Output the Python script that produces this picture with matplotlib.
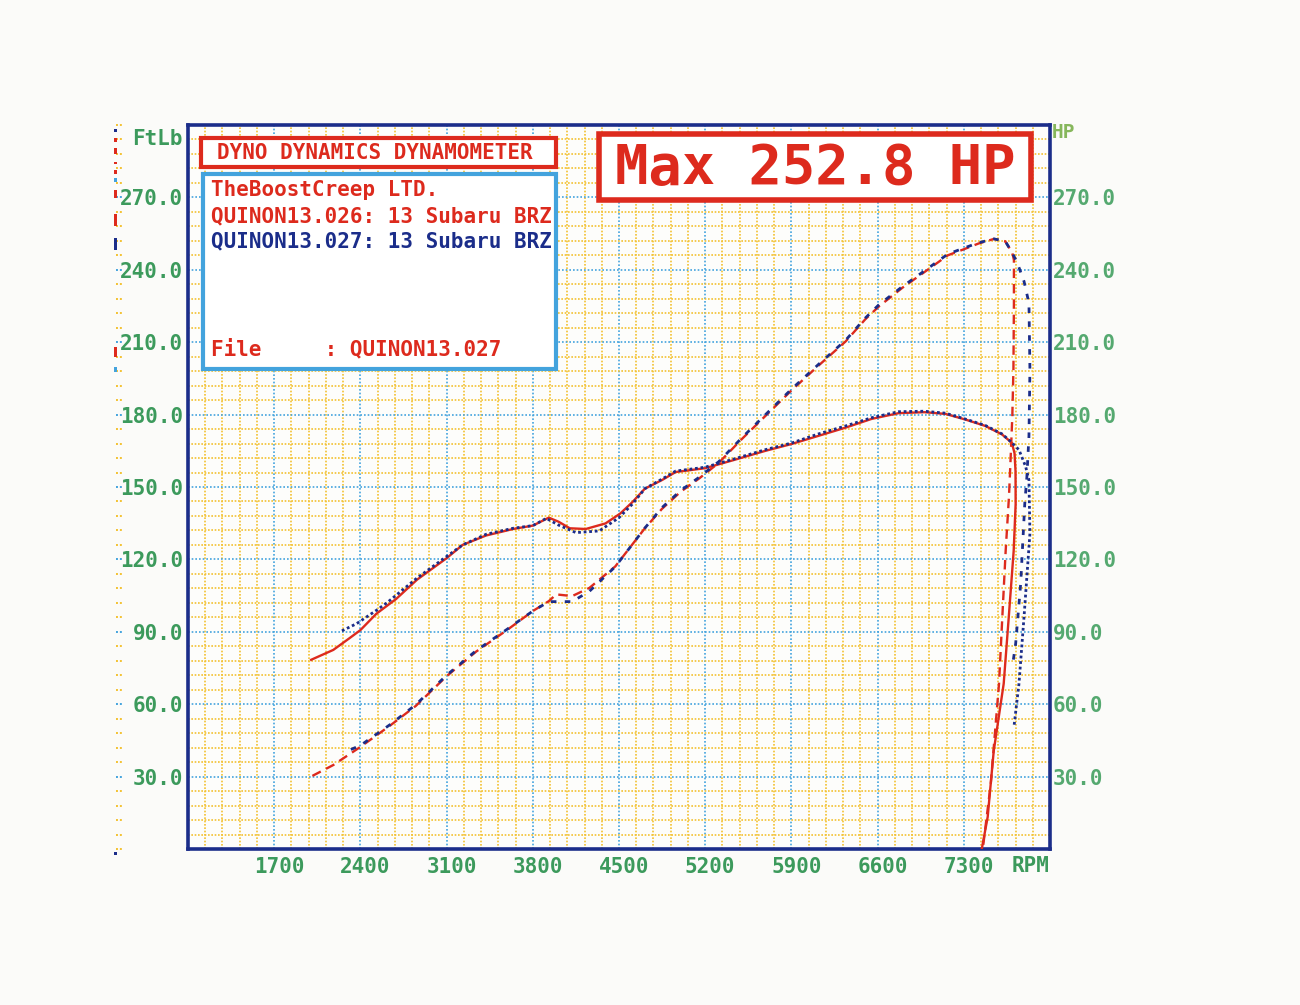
import numpy as np
import matplotlib.pyplot as plt
from matplotlib.patches import Rectangle
from matplotlib.transforms import ScaledTranslation

# run QUINON13.026 (red)
rpm_tq_026 = [2000, 2180, 2310, 2400, 2530, 2690, 2860, 3100, 3230, 3420,
              3640, 3800, 3930, 4010, 4100, 4230, 4390, 4510, 4610, 4710,
              4850, 4960, 5200, 5420, 5690, 5900, 6120, 6340, 6550, 6770,
              6980, 7150, 7310, 7475, 7610, 7690, 7712, 7720, 7721, 7705,
              7665, 7624, 7543, 7494, 7446]
tq_026 = [78.4, 82.5, 87.3, 90.7, 97.5, 103.6, 111.6, 120.5, 126.0, 129.9,
          132.6, 134.0, 137.3, 135.6, 132.9, 132.6, 134.9, 139.0, 143.8, 149.3,
          152.9, 156.2, 157.8, 161.0, 165.0, 167.8, 171.2, 174.6, 178.2, 180.6,
          181.0, 180.3, 178.0, 175.3, 171.8, 168.3, 164.0, 156.5, 143.0, 123.5,
          96.0, 68.5, 40.6, 13.3, 0.0]
rpm_hp_026 = [2010, 2180, 2400, 2640, 2850, 3100, 3340, 3590, 3800, 3930,
              3990, 4120, 4260, 4470, 4710, 4850, 5000, 5150, 5310, 5500,
              5690, 5900, 6120, 6340, 6500, 6610, 6800, 7020, 7170, 7300,
              7420, 7545, 7637, 7694, 7707, 7707, 7703, 7694, 7681, 7667,
              7640, 7613, 7586, 7541, 7519, 7454]
hp_026 = [30.3, 34.8, 42.3, 51.1, 59.3, 71.6, 81.8, 90.7, 98.6, 102.7,
          105.5, 104.8, 108.2, 117.1, 132.9, 141.0, 148.0, 153.5, 160.0, 170.0,
          179.5, 190.0, 200.3, 210.3, 219.5, 224.8, 232.5, 240.5, 246.0, 248.5,
          250.9, 252.8, 251.8, 247.0, 244.1, 226.2, 198.6, 179.4, 162.8, 146.2,
          123.6, 96.3, 68.5, 40.7, 27.0, 0.0]

# run QUINON13.027 (blue)
rpm_tq_027 = [2250, 2370, 2530, 2615, 2860, 3100, 3230, 3420, 3640, 3800,
              3910, 4010, 4150, 4340, 4500, 4610, 4710, 4850, 4960, 5200,
              5420, 5690, 5900, 6120, 6340, 6550, 6770, 6980, 7150, 7310,
              7475, 7610, 7690, 7748, 7802, 7829, 7837, 7789, 7748, 7707]
tq_027 = [90.4, 93.4, 98.9, 102.0, 112.3, 121.2, 126.0, 130.4, 132.9, 134.0,
          137.0, 134.2, 131.1, 131.8, 137.3, 143.0, 149.3, 153.3, 156.6, 158.2,
          161.4, 165.5, 168.2, 172.0, 175.3, 178.7, 181.2, 181.4, 180.6, 178.2,
          175.5, 172.0, 168.4, 165.4, 158.5, 152.9, 130.7, 96.1, 68.5, 50.5]
rpm_hp_027 = [2260, 2400, 2640, 2850, 3100, 3340, 3590, 3800, 3930, 4120,
              4260, 4470, 4710, 4850, 5000, 5150, 5310, 5500, 5690, 5900,
              6120, 6340, 6500, 6610, 6800, 7020, 7170, 7300, 7420, 7545,
              7637, 7694, 7735, 7789, 7829, 7837, 7829, 7812, 7795, 7762,
              7721, 7694]
hp_027 = [39.9, 42.9, 51.5, 59.8, 72.0, 82.2, 91.0, 98.6, 102.5, 102.5,
          106.8, 117.0, 133.0, 141.5, 148.5, 154.0, 160.5, 170.5, 180.0, 190.5,
          200.8, 210.8, 220.0, 225.5, 233.0, 241.0, 246.5, 249.0, 251.2, 252.8,
          251.8, 247.0, 242.8, 235.2, 226.2, 198.6, 171.0, 154.0, 143.0, 110.0,
          85.0, 75.4]

x_ticks = [1700, 2400, 3100, 3800, 4500, 5200, 5900, 6600, 7300]
y_ticks = [30, 60, 90, 120, 150, 180, 210, 240, 270]

RED = "#dd2a1d"
NAVY = "#1b2d8a"
GREEN = "#3c9a5c"
GREEN_R = "#55a970"
YELLOW = "#f3c232"
LBLUE = "#43a3dd"
FONT = "DejaVu Sans Mono"

W, H = 1300, 1005


def fx(x):
    return x / W


def fy(y):
    return 1 - y / H


def box(x0, y0, x1, y1, ec, lw):
    r = Rectangle((fx(x0), fy(y1)), (x1 - x0) / W, (y1 - y0) / H,
                  transform=fig.transFigure, fc="white", ec=ec, lw=lw, zorder=5)
    fig.add_artist(r)


fig = plt.figure(figsize=(13, 10.05), dpi=100)
fig.patch.set_facecolor("#fbfbf9")
ax = fig.add_axes([fx(188), fy(849), 862 / W, 724 / H])
ax.set_facecolor("#fdfdfb")

ax.set_xlim(1000, 8000)
ax.set_ylim(0, 300)
ax.set_xticks(x_ticks)
ax.set_xticks(np.arange(1140, 8000, 140), minor=True)
ax.set_yticks(y_ticks)
ax.set_yticks(np.arange(6, 300, 6), minor=True)
ax.set_xticklabels([str(v) for v in x_ticks])
ax.set_yticklabels([f"{v:.1f}" for v in y_ticks])

ax.set_axisbelow(True)
ax.grid(which="minor", color=YELLOW, lw=1.2, ls=(0, (1.0, 1.0)))
ax.grid(which="major", color=LBLUE, lw=1.2, ls=(0, (1.0, 1.2)))

ax.tick_params(which="both", length=0)
ax.tick_params(axis="y", pad=3.5, labelsize=15, labelcolor=GREEN)
ax.tick_params(axis="x", pad=6, labelsize=15, labelcolor=GREEN)
for lab in ax.get_xticklabels() + ax.get_yticklabels():
    lab.set_fontfamily(FONT)
    lab.set_fontweight("bold")
off = ScaledTranslation(5 / 100, 0, fig.dpi_scale_trans)
for lab in ax.get_xticklabels():
    lab.set_transform(lab.get_transform() + off)

for s in ax.spines.values():
    s.set_color(NAVY)
    s.set_linewidth(2.6)

sec = ax.secondary_yaxis("right")
sec.set_yticks(y_ticks)
sec.set_yticklabels([f"{v:.1f}" for v in y_ticks])
sec.tick_params(length=0, pad=2, labelsize=15, labelcolor=GREEN_R)
sec.spines["right"].set_visible(False)
for lab in sec.get_yticklabels():
    lab.set_fontfamily(FONT)
    lab.set_fontweight("bold")

# curves: red run under, blue run dotted on top
ax.plot(rpm_tq_026, tq_026, color=RED, lw=1.7, zorder=3)
ax.plot(rpm_hp_026, hp_026, color=RED, lw=1.7, ls=(0, (4, 2.5)), zorder=3)
ax.plot(rpm_tq_027, tq_027, color=NAVY, lw=2.0, ls=(0, (1, 1)), zorder=4)
ax.plot(rpm_hp_027, hp_027, color=NAVY, lw=2.0, ls=(2, (2, 3)), zorder=4)

# little scale outside the left edge
for v in np.arange(0, 301, 6):
    c = LBLUE if v % 30 == 0 and 0 < v < 300 else YELLOW
    ax.plot([-0.083, -0.077], [v, v], color=c, lw=1.4, ls=(0, (1, 1)),
            transform=ax.get_yaxis_transform(), clip_on=False)
marks = [(129, 3, NAVY), (138, 4, RED), (148, 6, RED), (162, 2, RED),
         (170, 4, RED), (178, 4, LBLUE), (190, 8, RED), (214, 12, RED),
         (238, 12, NAVY), (347, 10, RED), (367, 5, LBLUE), (852, 3, NAVY)]
for y, h, c in marks:
    fig.add_artist(Rectangle((fx(114), fy(y + h)), 3 / W, h / H,
                             transform=fig.transFigure, fc=c, ec="none"))

fig.text(fx(183), fy(139), "FtLb", ha="right", va="center", color=GREEN,
         fontsize=15, family=FONT, weight="bold")
fig.text(fx(1052), fy(132), "HP", ha="left", va="center", color="#86b75c",
         fontsize=14, family=FONT, weight="bold")
fig.text(fx(1031), fy(866), "RPM", ha="center", va="center", color=GREEN,
         fontsize=15, family=FONT, weight="bold")

# header boxes
box(201, 138, 556, 167, RED, 3.0)
fig.text(fx(217), fy(153), "DYNO DYNAMICS DYNAMOMETER", ha="left", va="center",
         color=RED, fontsize=15, family=FONT, weight="bold", zorder=6)
box(203, 174, 556, 369, LBLUE, 3.0)
info = [("TheBoostCreep LTD.", 190, RED),
        ("QUINON13.026: 13 Subaru BRZ", 216, RED),
        ("QUINON13.027: 13 Subaru BRZ", 241, NAVY),
        ("File     : QUINON13.027", 349, RED)]
for txt, y, c in info:
    fig.text(fx(211), fy(y), txt, ha="left", va="center", color=c,
             fontsize=15, family=FONT, weight="bold", zorder=6)

box(599, 134, 1031, 200, RED, 4.0)
fig.text(fx(815), fy(168), "Max 252.8 HP", ha="center", va="center",
         color=RED, fontsize=40, family=FONT, weight="bold", zorder=6)

fig.savefig("out.png", dpi=100, facecolor=fig.get_facecolor())
